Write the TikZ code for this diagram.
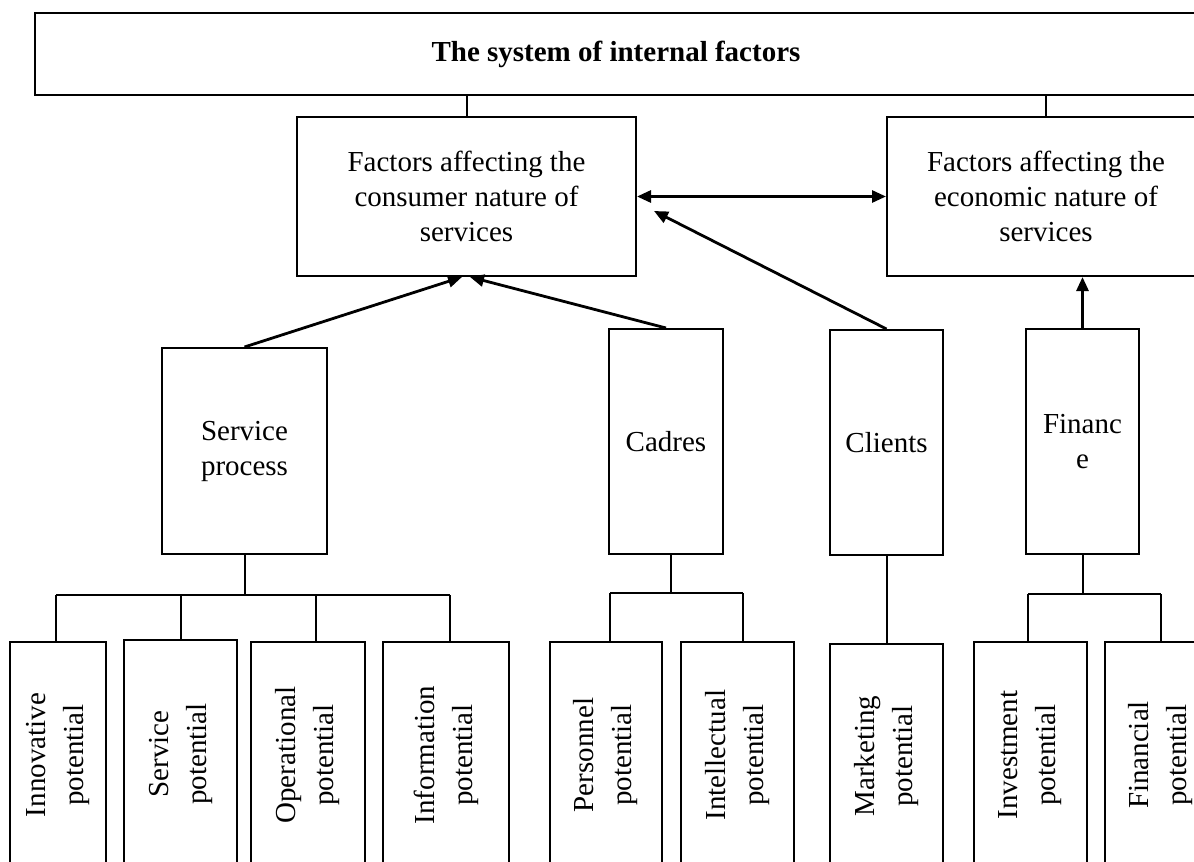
\documentclass[tikz,border=0pt]{standalone}
\usepackage{fontspec}
\setmainfont{Liberation Serif}
\usetikzlibrary{arrows.meta}
\newcommand\mainsz{\fontsize{14.5}{17.5}\selectfont}
\newcommand\rotsz{\fontsize{14.5}{19}\selectfont}
\tikzset{
  box/.style={draw, line width=1pt, inner sep=0pt, align=center, font=\mainsz},
  rbox/.style={draw, line width=1pt, inner sep=0pt, align=center, font=\rotsz, rotate=90},
  conn/.style={line width=1pt},
  arr/.style={line width=1.4pt, -{Triangle[length=7pt,width=6pt]}},
  darr/.style={line width=1.4pt, {Triangle[length=7pt,width=6pt]}-{Triangle[length=7pt,width=6pt]}}
}
\begin{document}
\begin{tikzpicture}[x=0.5pt,y=-0.5pt]
\useasboundingbox (0,0) rectangle (1194,862);
\clip (0,0) rectangle (1194,862);
\fill[white] (0,0) rectangle (1194,862);

% top level
\node[box, minimum width=585pt, minimum height=41pt, font=\mainsz\bfseries] (title) at (620,54) {\hspace*{-4pt}The system of internal factors};
\node[box, minimum width=169.5pt, minimum height=79.5pt] (consumer) at (466.5,196.5) {Factors affecting the\\consumer nature of\\services};
\node[box, minimum width=159pt, minimum height=79.5pt] (economic) at (1046,196.5) {Factors affecting the\\economic nature of\\services};

% middle level
\node[box, minimum width=82.5pt, minimum height=103pt] (sp) at (244.5,451) {Service\\process};
\node[box, minimum width=57pt, minimum height=112.5pt] (cadres) at (666,441.5) {Cadres};
\node[box, minimum width=56.5pt, minimum height=112.5pt] (clients) at (886.5,442.5) {Clients};
\node[box, minimum width=56.5pt, minimum height=112.5pt] (finance) at (1082.5,441.5) {Financ\\e};

% bottom level (rotated)
\node[rbox, minimum width=113pt, minimum height=48pt] (innov) at (58,755) {Innovative\\potential};
\node[rbox, minimum width=114pt, minimum height=56.5pt] (servp) at (180.5,754) {Service\\potential};
\node[rbox, minimum width=113pt, minimum height=57pt] (oper) at (308,755) {Operational\\potential};
\node[rbox, minimum width=113pt, minimum height=63pt] (info) at (446,755) {Information\\potential};
\node[rbox, minimum width=113pt, minimum height=56pt] (pers) at (606,755) {Personnel\\potential};
\node[rbox, minimum width=113pt, minimum height=56.5pt] (intel) at (737.5,755) {Intellectual\\potential};
\node[rbox, minimum width=112pt, minimum height=56.5pt] (market) at (886.5,756) {Marketing\\potential};
\node[rbox, minimum width=113pt, minimum height=56.5pt] (invest) at (1030.5,755) {Investment\\potential};
\node[rbox, minimum width=113pt, minimum height=56pt] (fin) at (1161,755) {Financial\\potential};

% top connectors
\draw[conn] (consumer.north |- title.south) -- (consumer.north);
\draw[conn] (economic.north |- title.south) -- (economic.north);

% arrows
\coordinate (tipA) at ([shift={(-4.5,0)}]consumer.south);
\coordinate (tipB) at ([shift={(3.5,0)}]consumer.south);
\coordinate (tipC) at ([shift={(17,14.5)}]consumer.east);
\draw[darr] (consumer.east) -- (economic.west);
\draw[arr] (sp.north) -- (tipA);
\draw[arr] (cadres.north) -- (tipB);
\draw[arr] (clients.north) -- (tipC);
\draw[arr] (finance.north) -- (finance.north |- economic.south);

% service process group
\coordinate (b1) at (56,595);
\coordinate (b2) at (181,595);
\coordinate (b3) at (316,595);
\coordinate (b4) at (450,595);
\draw[conn] (sp.south) -- (sp.south |- b1);
\draw[conn] (b1) -- (b4);
\draw[conn] (b1) -- (b1 |- innov.east);
\draw[conn] (b2) -- (b2 |- servp.east);
\draw[conn] (b3) -- (b3 |- oper.east);
\draw[conn] (b4) -- (b4 |- info.east);

% cadres group
\coordinate (c0) at (671,554);
\coordinate (c1) at (610,593);
\coordinate (c2) at (743,593);
\draw[conn] (c0) -- (c0 |- c1);
\draw[conn] (c1) -- (c2);
\draw[conn] (c1) -- (c1 |- pers.east);
\draw[conn] (c2) -- (c2 |- intel.east);

% clients
\draw[conn] (clients.south) -- (market.east);

% finance group
\coordinate (f1) at (1028,594);
\coordinate (f2) at (1161,594);
\draw[conn] (finance.south) -- (finance.south |- f1);
\draw[conn] (f1) -- (f2);
\draw[conn] (f1) -- (f1 |- invest.east);
\draw[conn] (f2) -- (f2 |- fin.east);
\end{tikzpicture}
\end{document}
